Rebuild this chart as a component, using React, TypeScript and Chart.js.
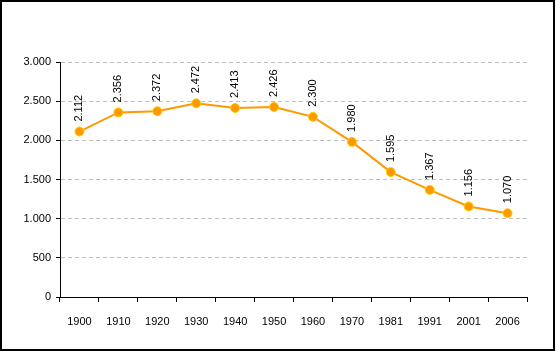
import React, { useEffect, useRef } from "react";
import { Chart, registerables } from "chart.js";

Chart.register(...registerables);

const categories = ["1900", "1910", "1920", "1930", "1940", "1950", "1960", "1970", "1981", "1991", "2001", "2006"];
const population = [2112, 2356, 2372, 2472, 2413, 2426, 2300, 1980, 1595, 1367, 1156, 1070];
const yTicks = [0, 500, 1000, 1500, 2000, 2500, 3000];

const fmt = (v: number) => {
  const s = Math.round(v).toString();
  return s.length > 3 ? s.slice(0, s.length - 3) + "." + s.slice(s.length - 3) : s;
};

const FONT = "'Liberation Sans', Arial, sans-serif";

const labelsPlugin = {
  id: "valueLabels",
  afterDatasetsDraw(chart: any) {
    const ctx = chart.ctx;
    const meta = chart.getDatasetMeta(0);
    ctx.save();
    ctx.fillStyle = "#000";
    ctx.font = `11px ${FONT}`;
    ctx.textAlign = "left";
    ctx.textBaseline = "middle";
    meta.data.forEach((pt: any, i: number) => {
      ctx.save();
      ctx.translate(pt.x, pt.y - 10);
      ctx.rotate(-Math.PI / 2);
      ctx.fillText(fmt(population[i]), 0, 0);
      ctx.restore();
    });
    ctx.restore();
  },
};

const framePlugin = {
  id: "frame",
  afterDraw(chart: any) {
    const ctx = chart.ctx;
    ctx.save();
    ctx.strokeStyle = "#000";
    ctx.lineWidth = 2;
    ctx.strokeRect(1, 1, chart.width - 3, chart.height - 2);
    ctx.restore();
  },
};

export default function App() {
  const ref = useRef<HTMLCanvasElement>(null);
  useEffect(() => {
    document.body.style.margin = "0";
    const chart = new Chart(ref.current!, {
      type: "line",
      data: {
        labels: categories,
        datasets: [
          {
            data: population,
            borderColor: "#FF9900",
            borderWidth: 2,
            backgroundColor: "#FF9900",
            pointBackgroundColor: "#FF9900",
            pointBorderColor: "#FFCC00",
            pointBorderWidth: 1,
            pointRadius: 4.5,
            tension: 0,
          },
        ],
      },
      options: {
        animation: false,
        responsive: false,
        devicePixelRatio: 1,
        layout: { padding: { left: 0, right: 29, top: 62, bottom: 0 } },
        plugins: { legend: { display: false }, tooltip: { enabled: false } },
        scales: {
          x: {
            offset: true,
            afterFit: (s: any) => { s.height = 54; },
            grid: {
              offset: true,
              drawOnChartArea: false,
              drawTicks: true,
              tickLength: 5,
              tickColor: "#000",
            },
            border: { display: true, color: "#000", width: 1 },
            ticks: { color: "#000", font: { family: FONT, size: 11 }, padding: 13, maxRotation: 0, autoSkip: false },
          },
          y: {
            min: 0,
            max: 3000,
            afterFit: (s: any) => { s.width = 60; },
            afterBuildTicks: (s: any) => { s.ticks = yTicks.map((v) => ({ value: v })); },
            grid: {
              color: (c: any) => (c.tick && c.tick.value === 0 ? "rgba(0,0,0,0)" : "#C0C0C0"),
              lineWidth: 1,
              drawTicks: true,
              tickLength: 4,
              tickColor: "#000",
              tickBorderDash: [],
            },
            border: { display: true, color: "#000", width: 1, dash: [4, 3] },
            ticks: { color: "#000", font: { family: FONT, size: 11 }, padding: 5, callback: (v: any) => fmt(Number(v)) },
          },
        },
      },
      plugins: [labelsPlugin, framePlugin],
    });
    return () => chart.destroy();
  }, []);
  return <canvas ref={ref} width={556} height={351} style={{ display: "block", width: 556, height: 351 }} />;
}
